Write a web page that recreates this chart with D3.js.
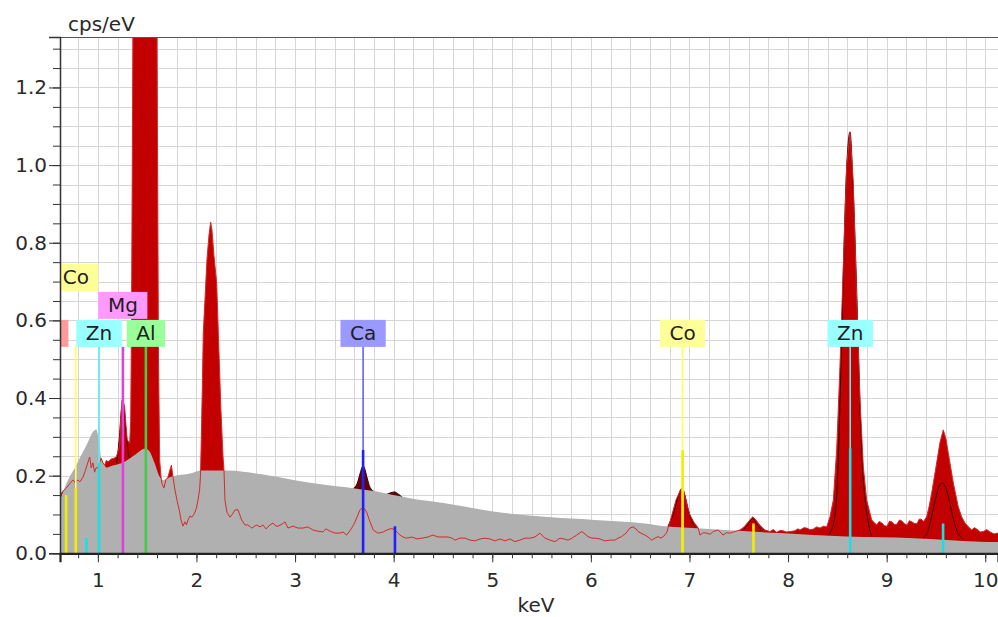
<!DOCTYPE html>
<html>
<head>
<meta charset="utf-8">
<script src="https://cdn.jsdelivr.net/npm/d3@7"></script>
<style>
  body { margin: 0; background: #fff; }
  svg { display: block; }
  text { font-family: "DejaVu Sans", Verdana, sans-serif; }
</style>
</head>
<body>
<svg id="chart" width="998" height="617"></svg>
<script>
// ---- measured spectrum (keV, cps/eV) ----
const energy = [
  0.616,0.629,0.646,0.680,0.717,0.747,0.768,0.798,0.818,0.849,0.869,0.900,0.917,0.933,0.950,0.967,0.981,1.001,1.021,1.034,
  1.052,1.069,1.087,1.102,1.136,1.163,1.187,1.204,1.221,1.234,1.245,1.260,1.272,1.285,1.298,1.323,1.333,1.341,1.351,1.361,
  1.376,1.397,1.427,1.478,1.528,1.569,1.594,1.604,1.615,1.627,1.643,1.650,1.670,1.691,1.711,1.731,1.746,1.762,1.782,1.802,
  1.830,1.843,1.863,1.883,1.899,1.914,1.934,1.954,1.970,1.985,2.000,2.015,2.032,2.041,2.051,2.061,2.069,2.086,2.106,2.127,
  2.144,2.157,2.177,2.205,2.228,2.248,2.269,2.279,2.289,2.309,2.340,2.360,2.391,2.421,2.458,2.492,2.522,2.560,2.610,2.644,
  2.674,2.705,2.745,2.776,2.806,2.826,2.867,2.898,2.928,2.979,3.029,3.080,3.131,3.181,3.232,3.283,3.313,3.354,3.405,3.455,
  3.486,3.523,3.547,3.574,3.597,3.625,3.658,3.692,3.726,3.760,3.793,3.821,3.844,3.894,3.932,3.962,3.993,4.013,4.043,4.064,
  4.094,4.132,4.185,4.236,4.287,4.348,4.398,4.449,4.500,4.551,4.591,4.622,4.672,4.723,4.774,4.824,4.875,4.926,4.977,5.027,
  5.078,5.129,5.180,5.230,5.281,5.332,5.382,5.433,5.484,5.534,5.585,5.636,5.687,5.727,5.768,5.808,5.856,5.907,5.940,5.970,
  6.011,6.041,6.092,6.143,6.194,6.244,6.275,6.312,6.356,6.396,6.427,6.457,6.478,6.508,6.549,6.579,6.617,6.650,6.681,6.711,
  6.751,6.772,6.785,6.802,6.822,6.863,6.903,6.921,6.944,6.975,7.005,7.045,7.089,7.106,7.140,7.174,7.210,7.241,7.292,7.340,
  7.375,7.411,7.461,7.512,7.553,7.593,7.641,7.674,7.715,7.765,7.816,7.850,7.884,7.920,7.948,7.985,8.019,8.070,8.100,8.121,
  8.160,8.189,8.220,8.253,8.290,8.323,8.360,8.392,8.425,8.459,8.493,8.526,8.560,8.594,8.628,8.661,8.696,8.729,8.763,8.797,
  8.848,8.875,8.898,8.925,8.952,8.978,9.003,9.030,9.054,9.080,9.104,9.130,9.155,9.180,9.206,9.230,9.256,9.280,9.307,9.330,
  9.348,9.375,9.405,9.430,9.456,9.507,9.540,9.574,9.601,9.625,9.676,9.726,9.760,9.794,9.830,9.862,9.890,9.916,9.950,9.980,
  10.015,10.048,10.090,10.129
];
const counts = [
  0.140,0.155,0.160,0.168,0.180,0.189,0.182,0.189,0.184,0.196,0.210,0.235,0.248,0.220,0.233,0.209,0.220,0.220,0.235,0.245,
  0.233,0.227,0.240,0.235,0.243,0.245,0.248,0.261,0.279,0.356,0.395,0.387,0.377,0.330,0.292,0.284,0.343,0.600,1.100,1.700,
  2.400,3.000,3.400,3.600,3.300,2.500,1.700,1.100,0.500,0.240,0.190,0.180,0.168,0.190,0.196,0.215,0.227,0.196,0.163,0.137,
  0.106,0.086,0.070,0.081,0.073,0.086,0.096,0.093,0.099,0.106,0.117,0.137,0.163,0.202,0.320,0.450,0.567,0.652,0.755,0.820,
  0.853,0.833,0.768,0.696,0.520,0.370,0.250,0.215,0.137,0.106,0.093,0.099,0.112,0.112,0.086,0.073,0.073,0.065,0.073,0.068,
  0.073,0.063,0.073,0.078,0.070,0.070,0.075,0.081,0.065,0.070,0.065,0.065,0.068,0.060,0.057,0.055,0.063,0.057,0.052,0.052,
  0.055,0.047,0.055,0.065,0.075,0.091,0.112,0.119,0.106,0.081,0.060,0.055,0.052,0.055,0.060,0.063,0.063,0.060,0.052,0.047,
  0.042,0.039,0.042,0.037,0.039,0.042,0.047,0.042,0.042,0.042,0.039,0.034,0.039,0.039,0.034,0.032,0.037,0.039,0.037,0.032,
  0.037,0.032,0.037,0.030,0.034,0.039,0.039,0.042,0.052,0.039,0.034,0.030,0.039,0.037,0.034,0.039,0.047,0.056,0.050,0.043,
  0.039,0.039,0.037,0.032,0.034,0.034,0.039,0.043,0.052,0.065,0.068,0.063,0.056,0.052,0.047,0.042,0.034,0.039,0.043,0.039,
  0.047,0.055,0.068,0.080,0.099,0.137,0.160,0.168,0.160,0.124,0.099,0.080,0.065,0.047,0.053,0.052,0.049,0.056,0.060,0.047,
  0.053,0.052,0.056,0.060,0.068,0.080,0.094,0.086,0.072,0.060,0.056,0.061,0.054,0.059,0.058,0.055,0.056,0.058,0.063,0.060,
  0.066,0.065,0.061,0.062,0.068,0.065,0.070,0.068,0.094,0.137,0.266,0.481,0.738,0.996,1.086,0.954,0.652,0.395,0.223,0.137,
  0.086,0.079,0.073,0.082,0.078,0.071,0.070,0.083,0.081,0.074,0.075,0.086,0.083,0.076,0.073,0.084,0.081,0.077,0.076,0.088,
  0.088,0.082,0.094,0.120,0.155,0.233,0.285,0.318,0.295,0.258,0.181,0.120,0.094,0.078,0.068,0.060,0.066,0.062,0.055,0.056,
  0.061,0.055,0.050,0.052
];

// ---- continuum background (keV, cps/eV) ----
const bgEnergy = [0.616,0.697,0.765,0.832,0.900,0.950,0.984,1.001,1.018,1.034,1.069,1.085,1.136,1.237,1.272,1.373,1.481,1.525,1.576,1.627,
  1.660,1.744,1.947,2.049,2.306,2.475,2.644,2.982,3.320,3.523,3.658,3.828,3.996,4.165,4.520,5.027,5.534,6.041,6.549,6.782,
  6.903,7.918,8.594,9.270,9.946,10.129];
const bgCounts = [0.137,0.189,0.220,0.253,0.287,0.313,0.319,0.305,0.275,0.245,0.227,0.221,0.225,0.232,0.236,0.253,0.270,0.262,0.232,0.197,
  0.189,0.197,0.206,0.213,0.213,0.210,0.204,0.189,0.176,0.170,0.165,0.159,0.150,0.142,0.129,0.107,0.094,0.086,0.077,0.069,
  0.067,0.052,0.043,0.039,0.030,0.029];

// ---- fitted peak profiles, background included (keV, cps/eV) ----
const fitMg   = [[1.19,0.232],[1.215,0.290],[1.240,0.372],[1.255,0.392],[1.270,0.360],[1.290,0.300],[1.315,0.250],[1.335,0.244]];
const fitCa   = [[3.59,0.167],[3.63,0.180],[3.66,0.206],[3.680,0.222],[3.692,0.225],[3.705,0.219],[3.730,0.195],[3.760,0.170],[3.81,0.158]];
const fitCaKb = [[3.93,0.152],[3.97,0.156],[4.010,0.158],[4.050,0.152],[4.09,0.144]];
const fitCo   = [[6.78,0.069],[6.84,0.105],[6.89,0.150],[6.922,0.167],[6.95,0.152],[7.00,0.100],[7.06,0.066]];
const fitCoKb = [[7.55,0.061],[7.60,0.077],[7.640,0.090],[7.68,0.076],[7.73,0.059]];
const fitZn   = [[8.40,0.045],[8.46,0.075],[8.48,0.110],[8.50,0.180],[8.53,0.420],[8.56,0.720],[8.59,0.970],[8.628,1.085],
                 [8.66,0.940],[8.70,0.640],[8.73,0.380],[8.76,0.200],[8.79,0.120],[8.82,0.070],[8.85,0.043]];
const fitZnKb = [[9.37,0.040],[9.42,0.058],[9.46,0.100],[9.50,0.145],[9.535,0.175],[9.565,0.181],[9.595,0.172],[9.63,0.140],
                 [9.67,0.095],[9.71,0.060],[9.77,0.037]];
const fitPeaks = [fitMg, fitCa, fitCaKb, fitCo, fitCoKb, fitZn, fitZnKb];

// ---- characteristic line markers ----
const lineElement = ["Co", "Co", "Zn", "Zn", "Mg", "Al", "Ca", "Ca", "Co", "Co", "Zn", "Zn"];
const lineKeV     = [0.678, 0.776, 0.884, 1.012, 1.254, 1.487, 3.690, 4.013, 6.930, 7.649, 8.630, 9.572];
const lineHeight  = [0.150, 0.168, 0.040, 0.232, 0.534, 0.534, 0.266, 0.070, 0.266, 0.077, 0.270, 0.077];

// ---- element labels ----
const labelElement = ["O", "Co", "Zn", "Mg", "Al", "Ca", "Co", "Zn"];
const labelKeV     = [0.525, 0.776, 1.012, 1.254, 1.487, 3.690, 6.930, 8.630];
const labelTier    = [0, 2, 0, 1, 0, 0, 0, 0];

const boxColor  = { O: "#ff9a9a", Co: "#ffff99", Zn: "#99ffff", Mg: "#ff99ff", Al: "#99ff99", Ca: "#9999ff" };
const thinColor = { O: "#ff7070", Co: "#ffff55", Zn: "#55eeee", Mg: "#ee66ee", Al: "#66dd66", Ca: "#6060ff" };
const markColor = { O: "#ff5050", Co: "#f2ee00", Zn: "#22dddd", Mg: "#e040e0", Al: "#44cc44", Ca: "#2020ff" };

// ---- axis ticks ----
const xMajorTicks = [1, 2, 3, 4, 5, 6, 7, 8, 9, 10];
const yMajorTicks = [0, 0.2, 0.4, 0.6, 0.8, 1.0, 1.2];

// ---- layout ----
const svg = d3.select("#chart");
const pLeft = 60, pRight = 998, pTop = 37, pBottom = 553.3;
const x = d3.scaleLinear().domain([0.616, 10.129]).range([pLeft, pRight]);
const y = d3.scaleLinear().domain([0, 1.33]).range([pBottom, pTop]);

svg.append("defs").append("clipPath").attr("id", "plot")
  .append("rect").attr("x", pLeft).attr("y", pTop).attr("width", pRight - pLeft).attr("height", pBottom - pTop);

// grid
const grid = svg.append("g").attr("stroke", "#d6d6d6").attr("stroke-width", 1).attr("shape-rendering", "crispEdges");
grid.selectAll(".gx").data(d3.range(4, 51).map(i => i / 5)).join("line")
  .attr("x1", d => Math.round(x(d)) + 0.5).attr("x2", d => Math.round(x(d)) + 0.5)
  .attr("y1", pTop).attr("y2", pBottom);
grid.selectAll(".gy").data(d3.range(1, 27).map(i => i / 20)).join("line")
  .attr("y1", d => Math.round(y(d)) + 0.5).attr("y2", d => Math.round(y(d)) + 0.5)
  .attr("x1", pLeft).attr("x2", pRight);

const plot = svg.append("g").attr("clip-path", "url(#plot)");
const spectrum = energy.map((e, i) => [e, counts[i]]);
const background = bgEnergy.map((e, i) => [e, bgCounts[i]]);

const area = d3.area().x(d => x(d[0])).y0(y(0)).y1(d => y(d[1]));
const line = d3.line().x(d => x(d[0])).y(d => y(d[1]));

// fitted peaks (filled) sit under the measured spectrum
plot.selectAll(".fitfill").data(fitPeaks).join("path")
  .attr("d", d => area.curve(d3.curveMonotoneX)(d))
  .attr("fill", "#650404");

// measured spectrum fill
plot.append("path").attr("d", area.curve(d3.curveLinear)(spectrum)).attr("fill", "#c20000");

// fitted peak outlines
plot.selectAll(".fitline").data(fitPeaks).join("path")
  .attr("d", d => line.curve(d3.curveMonotoneX)(d))
  .attr("fill", "none").attr("stroke", "#3a0000").attr("stroke-width", 1);

// continuum background
plot.append("path").attr("d", area.curve(d3.curveMonotoneX)(background)).attr("fill", "#b0b0b0");

// measured spectrum trace
plot.append("path").attr("d", line.curve(d3.curveLinear)(spectrum))
  .attr("fill", "none").attr("stroke", "#d42a2a").attr("stroke-width", 1);

// label geometry
const rowH = 28, boxH = 27;
const row0Top = y(0.6) - 0.5;
const labelBottom = row0Top + boxH;

// thin line under each label
plot.selectAll(".lbl-line").data(labelElement.map((el, i) => ({ el, keV: labelKeV[i] }))).join("line")
  .attr("x1", d => x(d.keV)).attr("x2", d => x(d.keV))
  .attr("y1", labelBottom).attr("y2", pBottom)
  .attr("stroke", d => thinColor[d.el]).attr("stroke-width", 1.6);

// intensity markers
plot.selectAll(".mark").data(lineElement.map((el, i) => ({ el, keV: lineKeV[i], h: lineHeight[i] }))).join("line")
  .attr("x1", d => x(d.keV)).attr("x2", d => x(d.keV))
  .attr("y1", d => Math.max(y(d.h), labelBottom)).attr("y2", pBottom)
  .attr("stroke", d => markColor[d.el]).attr("stroke-width", 2.6);

// label boxes (a box whose line lies left of the range shows only its clipped edge)
const labels = plot.selectAll(".lbl").data(labelElement.map((el, i) => ({ el, keV: labelKeV[i], tier: labelTier[i] })))
  .join("g").attr("transform", d => `translate(${x(d.keV)},${row0Top - d.tier * rowH})`);
labels.each(function (d) {
  const g = d3.select(this);
  const t = g.append("text").text(d.el).attr("text-anchor", "middle").attr("y", 20.5)
    .attr("font-size", 20).attr("fill", "#1e1e1e");
  const tw = t.node().getComputedTextLength();
  const w = tw + 19;
  g.insert("rect", "text").attr("x", -w / 2).attr("y", 0).attr("width", w).attr("height", boxH)
    .attr("fill", boxColor[d.el]);
  if (x(d.keV) + tw / 2 < pLeft) t.remove();
});

// frame top edge
svg.append("line").attr("x1", pLeft).attr("x2", pRight).attr("y1", pTop + 0.5).attr("y2", pTop + 0.5)
  .attr("stroke", "#555").attr("stroke-width", 1);

// y axis
const yAxis = svg.append("g").attr("transform", `translate(${pLeft},0)`)
  .call(d3.axisLeft(y).tickValues(yMajorTicks).tickFormat(d3.format(".1f")).tickSize(11).tickPadding(2));
svg.append("g").attr("transform", `translate(${pLeft},0)`)
  .call(d3.axisLeft(y).tickValues(d3.range(0, 27).map(i => i / 20)).tickFormat("").tickSize(7))
  .call(g => g.select(".domain").remove());

// x axis
const xAxis = svg.append("g").attr("transform", `translate(0,${pBottom})`)
  .call(d3.axisBottom(x).tickValues(xMajorTicks).tickFormat(d3.format("d")).tickSize(9).tickPadding(11));
svg.append("g").attr("transform", `translate(0,${pBottom})`)
  .call(d3.axisBottom(x).tickValues(d3.range(4, 51).map(i => i / 5)).tickFormat("").tickSize(5))
  .call(g => g.select(".domain").remove());

svg.selectAll(".tick line").attr("stroke", "#333");
svg.selectAll(".tick text").attr("font-size", 20).attr("fill", "#2a2a2a")
  .style("font-family", "'DejaVu Sans', Verdana, sans-serif");
yAxis.select(".domain").attr("stroke", "#333").attr("stroke-width", 1.5);
xAxis.select(".domain").attr("stroke", "#222").attr("stroke-width", 2.2);

// axis titles
svg.append("text").attr("x", 68).attr("y", 31).attr("font-size", 20).attr("fill", "#2a2a2a").text("cps/eV");
svg.append("text").attr("x", 536).attr("y", 612).attr("text-anchor", "middle")
  .attr("font-size", 20).attr("fill", "#2a2a2a").text("keV");
</script>
</body>
</html>
